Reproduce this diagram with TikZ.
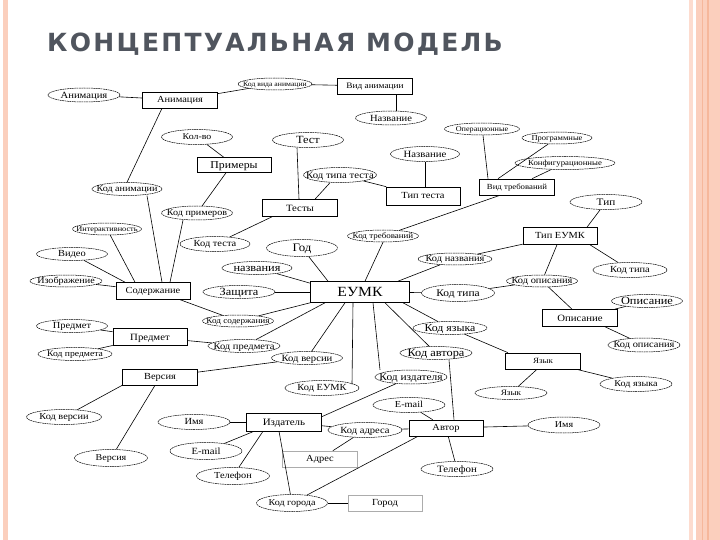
\documentclass[tikz,border=0pt]{standalone}
\usepackage{fontspec}
\usetikzlibrary{shapes.geometric}
\newfontfamily\dgfont[FakeStretch=1.12]{Liberation Serif}
\newfontfamily\ttlfont[LetterSpace=9]{DejaVu Sans Bold}
\newcommand\dgs[1]{\dgfont\fontsize{#1}{#1}\selectfont}
\newcommand\ct[1]{\raisebox{-0.7ex}[0pt][0pt]{\makebox[0pt]{#1}}}
\definecolor{ttl}{HTML}{50555E}
\definecolor{peach}{HTML}{FBCFBD}
\definecolor{peachd}{HTML}{F6B79B}
\definecolor{peachl}{HTML}{FDDCCF}
\tikzset{
  ent/.style={draw, rectangle, line width=0.6pt, inner sep=0pt, minimum width=75pt, minimum height=16pt, font=\dgs{9.3}},
  entg/.style={ent, draw=gray!65},
  att/.style={draw, ellipse, line width=0.5pt, dash pattern=on 1.8pt off 0.6pt, inner sep=0pt, minimum width=72pt, minimum height=14pt, font=\dgs{9.3}},
  cn/.style={line width=0.6pt}
}
\begin{document}
\begin{tikzpicture}[x=1pt,y=-1pt]
\useasboundingbox (0,0) rectangle (720,540);
\fill[white] (0,0) rectangle (720,540);
% stripes
\fill[peach] (3,0) rectangle (8,540);
\fill[peachl] (689,0) rectangle (692.5,540);
\fill[peach] (695.5,0) rectangle (720,540);
\fill[peachd] (701.5,0) rectangle (703,540);
\fill[peachd] (706.7,0) rectangle (708.7,540);
% title
\node[anchor=west, text=ttl, font=\ttlfont\fontsize{25}{25}\selectfont, inner sep=0pt] (title) at (47,44) {КОНЦЕПТУАЛЬНАЯ МОДЕЛЬ};

% entities
\node[ent] (bAnim) at (180,100) {\ct{Анимация}};
\node[ent, font=\dgs{8.3}] (bVidAnim) at (375,86) {\ct{Вид анимации}};
\node[ent, minimum width=74pt, minimum height=15pt, font=\dgs{10.5}] (bPrim) at (234,165) {\ct{Примеры}};
\node[ent, minimum height=17pt, font=\dgs{9.6}] (bTesty) at (300,208) {\ct{Тесты}};
\node[ent, minimum width=74pt, minimum height=18pt] (bTipTest) at (423,196) {\ct{Тип теста}};
\node[ent, font=\dgs{7.8}] (bVidTreb) at (517,187) {\ct{Вид требований}};
\node[ent, minimum width=74pt, minimum height=17pt] (bTipEUMK) at (560,236) {\ct{Тип ЕУМК}};
\node[ent, minimum width=74pt, minimum height=17pt] (bSod) at (153,291) {\ct{Содержание}};
\node[ent, minimum width=74pt, minimum height=17pt, font=\dgs{9.6}] (bPred) at (150,337) {\ct{Предмет}};
\node[ent, minimum width=99pt, minimum height=21pt, font=\dgs{14}] (bEUMK) at (360,292) {\ct{ЕУМК}};
\node[ent, minimum height=17pt, font=\dgs{9.6}] (bOpis) at (580,318) {\ct{Описание}};
\node[ent, font=\dgs{8}] (bYaz) at (543,361) {\ct{Язык}};
\node[ent] (bVers) at (160,377) {\ct{Версия}};
\node[ent, minimum height=18pt, font=\dgs{9.8}] (bIzd) at (284,422) {\ct{Издатель}};
\node[ent, minimum width=74pt] (bAvt) at (446,428) {\ct{Автор}};
\node[entg] (bAdr) at (320,459) {\ct{Адрес}};
\node[entg, minimum width=74pt] (bGor) at (385,503) {\ct{Город}};

% attributes
\node[att, font=\dgs{9.5}] (aAnim) at (84,95) {\ct{Анимация}};
\node[att, minimum width=74pt, minimum height=12pt, font=\dgs{6.9}] (aKVA) at (275,84) {\ct{Код вида анимации}};
\node[att, minimum width=71pt, font=\dgs{9.4}] (aNazv1) at (391,118) {\ct{Название}};
\node[att, minimum width=71pt, minimum height=15pt, font=\dgs{8.8}] (aKolvo) at (197,137) {\ct{Кол-во}};
\node[att, minimum width=71pt, minimum height=15pt, font=\dgs{11}] (aTest) at (308,140) {\ct{Тест}};
\node[att, minimum width=69pt, minimum height=15pt, font=\dgs{9.6}] (aNazv2) at (425,154) {\ct{Название}};
\node[att, minimum width=73pt, minimum height=15pt, font=\dgs{9.6}] (aKTT) at (340,175) {\ct{Код типа теста}};
\node[att, minimum width=75pt, minimum height=12pt, font=\dgs{7.3}] (aOper) at (482,129) {\ct{Операционные}};
\node[att, minimum width=70pt, minimum height=12pt, font=\dgs{7.6}] (aProg) at (557,138) {\ct{Программные}};
\node[att, minimum width=100pt, minimum height=13pt, font=\dgs{7.8}] (aKonf) at (565,163) {\ct{Конфигурационные}};
\node[att, minimum width=72pt, minimum height=15pt, font=\dgs{10}] (aTip) at (606,202) {\ct{Тип}};
\node[att, minimum width=70pt, minimum height=13pt, font=\dgs{9}] (aKAnim) at (127,189) {\ct{Код анимации}};
\node[att, minimum width=71pt, font=\dgs{9}] (aKPrim) at (197,213) {\ct{Код примеров}};
\node[att, minimum width=69pt, minimum height=12pt, font=\dgs{7.4}] (aInter) at (107,229) {\ct{Интерактивность}};
\node[att, minimum width=70pt, minimum height=15pt, font=\dgs{9.3}] (aKTest) at (215,244) {\ct{Код теста}};
\node[att, minimum width=71pt, minimum height=13pt, font=\dgs{9.3}] (aVideo) at (72,254) {\ct{Видео}};
\node[att, minimum width=72pt, minimum height=12pt, font=\dgs{9}] (aIzobr) at (66,281) {\ct{Изображение}};
\node[att, minimum width=71pt, minimum height=17pt, font=\dgs{11.5}] (aGod) at (302,248) {\ct{Год}};
\node[att, minimum width=70pt, minimum height=13pt, font=\dgs{11}] (aNazvaniya) at (257,268) {\ct{названия}};
\node[att, minimum width=72pt, minimum height=13pt, font=\dgs{11}] (aZasch) at (239,292) {\ct{Защита}};
\node[att, minimum width=71pt, minimum height=12pt, font=\dgs{8.2}] (aKSod) at (238,321) {\ct{Код содержания}};
\node[att, minimum width=72pt, minimum height=13pt, font=\dgs{9.4}] (aKPred2) at (244,346) {\ct{Код предмета}};
\node[att, minimum width=71pt, minimum height=13pt, font=\dgs{9.5}] (aKVers2) at (307,358) {\ct{Код версии}};
\node[att, minimum width=74pt, minimum height=15pt, font=\dgs{9.3}] (aKEUMK) at (322,388) {\ct{Код ЕУМК}};
\node[att, minimum width=71pt, minimum height=12pt, font=\dgs{8}] (aKTreb) at (383,236) {\ct{Код требований}};
\node[att, minimum width=74pt, minimum height=12pt, font=\dgs{9.3}] (aKNazv) at (455,259) {\ct{Код названия}};
\node[att, minimum width=73pt, minimum height=17pt, font=\dgs{10.2}] (aKTip2) at (458,293) {\ct{Код типа}};
\node[att, minimum width=71pt, minimum height=12pt, font=\dgs{9.3}] (aKOpis1) at (542,281) {\ct{Код описания}};
\node[att, minimum width=74pt, minimum height=15pt, font=\dgs{9.3}] (aKTip3) at (630,270) {\ct{Код типа}};
\node[att, minimum width=71pt, minimum height=13pt, font=\dgs{11}] (aOpis) at (647,301) {\ct{Описание}};
\node[att, minimum width=72pt, minimum height=14pt, font=\dgs{9.3}] (aKOpis2) at (644,345) {\ct{Код описания}};
\node[att, minimum width=74pt, minimum height=13pt, font=\dgs{10.6}] (aKYaz1) at (450,328) {\ct{Код языка}};
\node[att, minimum width=72pt, minimum height=13pt, font=\dgs{11}] (aKAvt) at (436,353) {\ct{Код автора}};
\node[att, minimum width=72pt, minimum height=14pt, font=\dgs{10.2}] (aKIzd) at (411,377) {\ct{Код издателя}};
\node[att, minimum width=72pt, minimum height=13pt, font=\dgs{8.2}] (aYaz) at (511,393) {\ct{Язык}};
\node[att, minimum width=72pt, minimum height=15pt, font=\dgs{9}] (aKYaz2) at (636,384) {\ct{Код языка}};
\node[att, minimum width=71pt, minimum height=13pt, font=\dgs{9.3}] (aPred) at (72,326) {\ct{Предмет}};
\node[att, minimum width=74pt, minimum height=13pt, font=\dgs{8.6}] (aKPred1) at (75,354) {\ct{Код предмета}};
\node[att, minimum width=75pt, minimum height=15pt, font=\dgs{9.2}] (aKVers1) at (64,417) {\ct{Код версии}};
\node[att, minimum width=73pt, minimum height=17pt, font=\dgs{9}] (aVers) at (111,458) {\ct{Версия}};
\node[att, minimum width=72pt, minimum height=15pt, font=\dgs{9.3}] (aImya1) at (194,422) {\ct{Имя}};
\node[att, minimum width=72pt, minimum height=17pt, font=\dgs{9.5}] (aEmail1) at (206,451) {\ct{E-mail}};
\node[att, minimum width=73pt, minimum height=17pt, font=\dgs{9.2}] (aTel1) at (233,476) {\ct{Телефон}};
\node[att, minimum width=74pt, minimum height=15pt, font=\dgs{9.4}] (aKAdr) at (365,430) {\ct{Код адреса}};
\node[att, minimum width=72pt, minimum height=15pt, font=\dgs{9.2}] (aEmail2) at (409,405) {\ct{E-mail}};
\node[att, minimum width=72pt, minimum height=15pt, font=\dgs{9.7}] (aTel2) at (457,469) {\ct{Телефон}};
\node[att, minimum width=72pt, minimum height=16pt, font=\dgs{9}] (aImya2) at (564,425) {\ct{Имя}};
\node[att, minimum width=71pt, minimum height=17pt, font=\dgs{9}] (aKGor) at (292,503) {\ct{Код города}};

% connectors
\draw[cn] (aAnim) -- (bAnim);
\draw[cn] (bAnim) -- (aKVA);
\draw[cn] (aKVA) -- (bVidAnim);
\draw[cn] ([xshift=21pt]bVidAnim.south) -- ([xshift=5pt]aNazv1.north);
\draw[cn] ([xshift=-18pt]bAnim.south) -- (aKAnim.north);
\draw[cn] ([xshift=20pt]aKAnim.south) -- ([xshift=9pt]bSod.north);
\draw[cn] (aKolvo) -- (bPrim);
\draw[cn] ([xshift=-8pt]bPrim.south) -- (aKPrim);
\draw[cn] ([xshift=-14pt]aKPrim.south) -- ([xshift=17pt]bSod.north);
\draw[cn] ([xshift=-11pt]aTest.south) -- ([xshift=-1pt]bTesty.north);
\draw[cn] ([xshift=-10pt]aKTT.south) -- ([xshift=15pt]bTesty.north);
\draw[cn] (aKTT) -- (bTipTest);
\draw[cn] (aNazv2) -- ([xshift=2pt]bTipTest.north);
\draw[cn] ([xshift=-17pt]bVidTreb.south) -- (aKTreb);
\draw[cn] (aKTreb.south) -- ([xshift=5pt]bEUMK.north);
\draw[cn] ([xshift=1pt]aOper.south) -- ([xshift=-29pt]bVidTreb.north);
\draw[cn] (aProg) -- ([xshift=-19pt]bVidTreb.north);
\draw[cn] (aKonf) -- ([xshift=15pt]bVidTreb.north);
\draw[cn] (aTip) -- ([xshift=27pt]bTipEUMK.north);
\draw[cn] (bTipEUMK) -- (aKNazv);
\draw[cn] (aKNazv) -- ([xshift=38pt]bEUMK.north);
\draw[cn] ([xshift=-3pt]bTipEUMK.south) -- (aKOpis1);
\draw[cn] ([xshift=30pt]bTipEUMK.south) -- (aKTip3);
\draw[cn] (aKOpis1) -- (aKTip2);
\draw[cn] (aKTip2) -- (bEUMK);
\draw[cn] (aKOpis1) -- ([xshift=-8pt]bOpis.north);
\draw[cn] (bOpis) -- (aOpis);
\draw[cn] ([xshift=25pt]bOpis.south) -- (aKOpis2);
\draw[cn] ([xshift=43pt]bEUMK.south) -- (aKYaz1);
\draw[cn] (aKYaz1) -- ([xshift=-35pt]bYaz.north);
\draw[cn] ([xshift=-6pt]bYaz.south) -- (aYaz);
\draw[cn] (bYaz) -- (aKYaz2);
\draw[cn] ([xshift=25pt]bEUMK.south) -- (aKAvt);
\draw[cn] ([xshift=13pt]aKAvt.south) -- ([xshift=8pt]bAvt.north);
\draw[cn] ([xshift=13pt]bEUMK.south) -- ([xshift=-31pt]aKIzd.north);
\draw[cn] (aKIzd) -- ([yshift=-4pt]bIzd.north east);
\draw[cn] ([xshift=-7pt]bEUMK.south) -- ([xshift=30pt,yshift=-4pt]aKEUMK.north);
\draw[cn] ([xshift=-15pt]bEUMK.south) -- (aKVers2);
\draw[cn] ([xshift=-35pt]bEUMK.south) -- (aKPred2);
\draw[cn] (bEUMK.south west) -- (aKSod);
\draw[cn] (aZasch) -- (bEUMK);
\draw[cn] (aNazvaniya) -- ([yshift=-2pt]bEUMK.north west);
\draw[cn] (aGod) -- ([xshift=-32pt]bEUMK.north);
\draw[cn] ([xshift=-10pt]bSod.south east) -- (aKSod);
\draw[cn] (bPred) -- (aKPred2);
\draw[cn] (aPred) -- (bPred);
\draw[cn] (aKPred1) -- (bPred);
\draw[cn] (aVideo) -- ([xshift=-28pt]bSod.north);
\draw[cn] (aIzobr) -- (bSod);
\draw[cn] (aInter) -- ([xshift=-18pt]bSod.north);
\draw[cn] ([xshift=-28pt]bTesty.south) -- (aKTest);
\draw[cn] (aKVers2) -- (bVers);
\draw[cn] (bVers.south west) -- (aKVers1);
\draw[cn] ([xshift=-5pt]bVers.south) -- (aVers);
\draw[cn] (aImya1) -- (bIzd);
\draw[cn] (aEmail1) -- ([xshift=-30pt]bIzd.south);
\draw[cn] (aTel1) -- ([xshift=-21pt]bIzd.south);
\draw[cn] (bIzd) -- (aKAdr);
\draw[cn] (aKAdr) -- (bAdr);
\draw[cn] (aKAdr) -- (bAvt);
\draw[cn] (aEmail2) -- (bAvt);
\draw[cn] (bAvt) -- (aTel2);
\draw[cn] (bAvt) -- (aImya2);
\draw[cn] ([xshift=-5pt]bIzd.south) -- (aKGor);
\draw[cn] (aKGor) -- ([xshift=-28pt]bAvt.south);
\draw[cn] (aKGor) -- (bGor);
\end{tikzpicture}
\end{document}
